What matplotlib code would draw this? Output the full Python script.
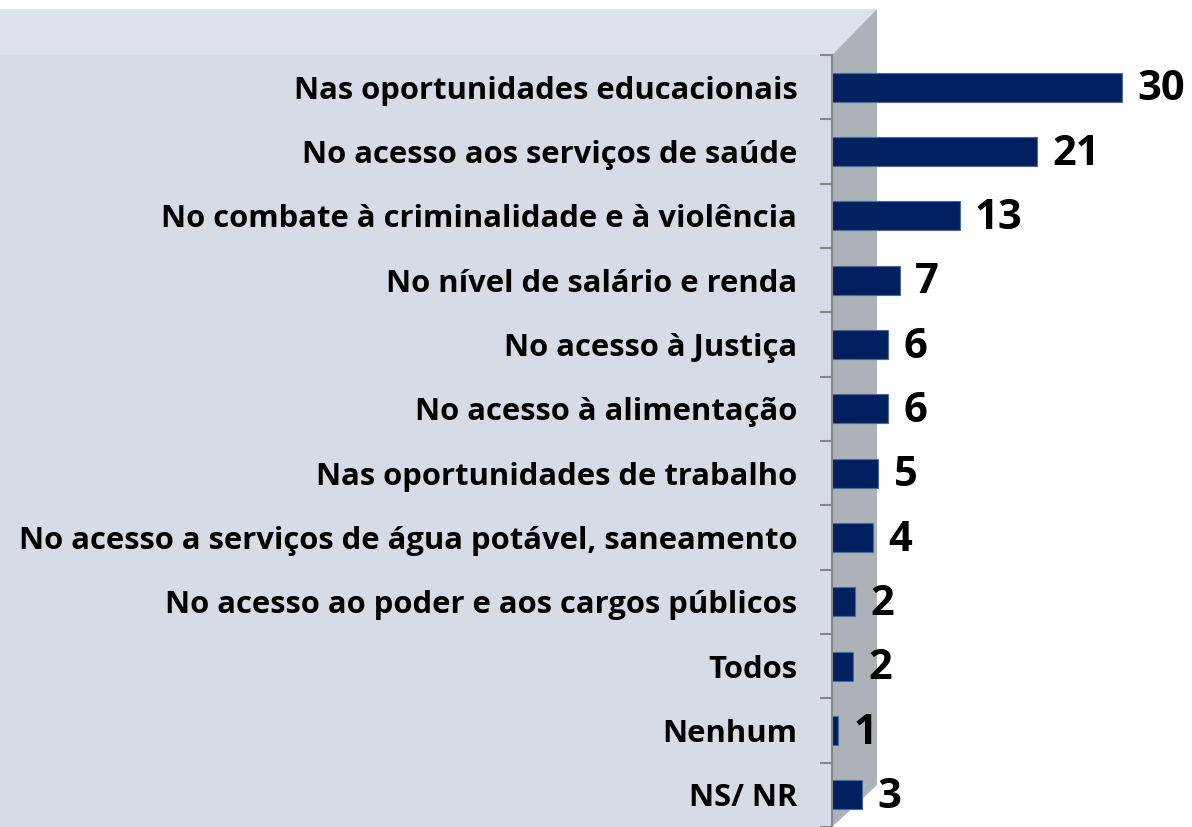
import matplotlib.pyplot as plt
from matplotlib.patches import Polygon

categorias = ["Nas oportunidades educacionais",
              "No acesso aos serviços de saúde",
              "No combate à criminalidade e à violência",
              "No nível de salário e renda",
              "No acesso à Justiça",
              "No acesso à alimentação",
              "Nas oportunidades de trabalho",
              "No acesso a serviços de água potável, saneamento",
              "No acesso ao poder e aos cargos públicos",
              "Todos",
              "Nenhum",
              "NS/ NR"]
valores = [30, 21.2, 13.2, 7.0, 5.8, 5.8, 4.8, 4.2, 2.4, 2.2, 0.6, 3.1]

fonte = 'Open Sans'
W, H = 1192, 827
fig = plt.figure(figsize=(W / 100, H / 100), dpi=100)

# fundo "3D" estilo Excel (coordenadas em pixels)
bg = fig.add_axes([0, 0, 1, 1], zorder=0)
bg.set_xlim(0, W)
bg.set_ylim(H, 0)
bg.axis('off')
bg.add_patch(Polygon([(0, 9), (877, 9), (832, 55), (0, 55)], closed=True, color='#dde1ea', lw=0))
bg.add_patch(Polygon([(0, 55), (832, 55), (832, H), (0, H)], closed=True, color='#d5dce6', lw=0))
bg.add_patch(Polygon([(832, 55), (877, 9), (877, 785), (832, H)], closed=True, color='#adb1b8', lw=0))

x0 = 832 / W
ax = fig.add_axes([x0, 0, 1 - x0, (H - 55) / H], zorder=1)
ax.patch.set_visible(False)

y = list(range(len(categorias)))
barras = ax.barh(y, valores, height=0.45, color='#002060', edgecolor='#4a6a9a', linewidth=0.8)

for b, v in zip(barras, valores):
    ax.annotate(f"{v:.0f}", (b.get_width(), b.get_y() + b.get_height() / 2),
                xytext=(11, -2), textcoords='offset points', va='center', ha='left',
                fontsize=30, fontweight='bold', family=fonte)

ax.set_xlim(0, 360 / 9.667)
ax.set_ylim(len(categorias) - 0.5, -0.5)
ax.set_xticks([])
ax.set_yticks(y)
rotulos = ax.set_yticklabels(categorias, fontsize=22, fontweight='bold', family=fonte)
ax.set_yticks([i - 0.5 for i in range(len(categorias) + 1)], minor=True)
ax.tick_params(axis='y', which='major', length=0, pad=25)
ax.tick_params(axis='y', which='minor', length=8.6, width=1.5, color='#868686')

# ajusta o tamanho para o rotulo mais longo ocupar ~779 px
r = fig.canvas.get_renderer()
larg = max(t.get_window_extent(r).width for t in rotulos)
for t in rotulos:
    t.set_fontsize(22 * 779 / larg)

for s in ['top', 'right', 'bottom']:
    ax.spines[s].set_visible(False)
ax.spines['left'].set_color('#868686')
ax.spines['left'].set_linewidth(1.5)

fig.savefig('out.png', dpi=100)
